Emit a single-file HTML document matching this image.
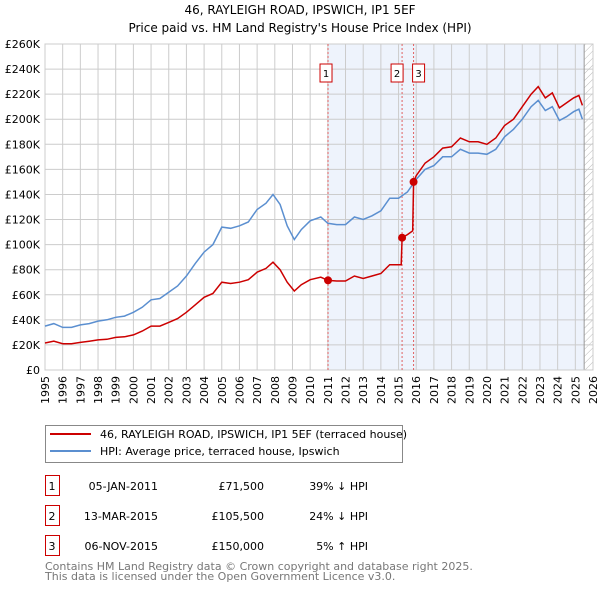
<!DOCTYPE html>
<html><head><meta charset="utf-8"><style>
body{margin:0;background:#fff;font-family:"DejaVu Sans","Liberation Sans",sans-serif;}
svg text{font-family:"DejaVu Sans","Liberation Sans",sans-serif;}
</style></head><body>
<svg id="c" width="600" height="590" xmlns="http://www.w3.org/2000/svg">
<defs><pattern id="hatch" width="5" height="5" patternUnits="userSpaceOnUse" patternTransform="rotate(45)"><line x1="0" y1="0" x2="0" y2="5" stroke="#bbb" stroke-width="1"/></pattern></defs>
<text x="300" y="14" text-anchor="middle" font-size="12">46, RAYLEIGH ROAD, IPSWICH, IP1 5EF</text>
<text x="300" y="32" text-anchor="middle" font-size="12">Price paid vs. HM Land Registry's House Price Index (HPI)</text>
<g id="plot"></g>
<g>
<rect x="45.5" y="425.5" width="357" height="37" fill="#fff" stroke="#888"/>
<line x1="50" y1="434" x2="91" y2="434" stroke="#cc0000" stroke-width="2"/>
<text x="100" y="438" font-size="11">46, RAYLEIGH ROAD, IPSWICH, IP1 5EF (terraced house)</text>
<line x1="50" y1="451" x2="91" y2="451" stroke="#5b8fd0" stroke-width="2"/>
<text x="100" y="455" font-size="11">HPI: Average price, terraced house, Ipswich</text>
</g>
<g id="table" font-size="11"></g>
<text x="45" y="570" font-size="11" fill="#777">Contains HM Land Registry data © Crown copyright and database right 2025.</text>
<text x="45" y="580" font-size="11" fill="#777">This data is licensed under the Open Government Licence v3.0.</text>
</svg>
<script>
const hpiYears=[1995,1995.5,1996,1996.5,1997,1997.5,1998,1998.5,1999,1999.5,2000,2000.5,2001,2001.5,2002,2002.5,2003,2003.5,2004,2004.5,2005,2005.5,2006,2006.5,2007,2007.5,2007.9,2008.3,2008.7,2009.1,2009.5,2010,2010.6,2011,2011.5,2012,2012.5,2013,2013.5,2014,2014.5,2015,2015.5,2016,2016.5,2017,2017.5,2018,2018.5,2019,2019.5,2020,2020.5,2021,2021.5,2022,2022.5,2022.9,2023.3,2023.7,2024.1,2024.5,2024.9,2025.2,2025.4];
const hpiValues=[35,37,34,34,36,37,39,40,42,43,46,50,56,57,62,67,75,85,94,100,114,113,115,118,128,133,140,132,115,104,112,119,122,117,116,116,122,120,123,127,137,137,142,152,160,163,170,170,176,173,173,172,176,186,192,200,210,215,207,210,199,202,206,208,200];
const propYears=[1995,1995.5,1996,1996.5,1997,1997.5,1998,1998.5,1999,1999.5,2000,2000.5,2001,2001.5,2002,2002.5,2003,2003.5,2004,2004.5,2005,2005.5,2006,2006.5,2007,2007.5,2007.9,2008.3,2008.7,2009.1,2009.5,2010,2010.6,2011.01,2011.5,2012,2012.5,2013,2013.5,2014,2014.5,2015.15,2015.2,2015.5,2015.8,2015.85,2016,2016.5,2017,2017.5,2018,2018.5,2019,2019.5,2020,2020.5,2021,2021.5,2022,2022.5,2022.9,2023.3,2023.7,2024.1,2024.5,2024.9,2025.2,2025.4];
const propValues=[21.5,23,21,21,22,23,24,24.5,26,26.5,28,31,35,35,38,41,46,52,58,61,70,69,70,72,78,81,86,80,70,63,68,72,74,71.5,71,71,75,73,75,77,84,84,105.5,108,111,150,155,165,170,177,178,185,182,182,180,185,195,200,210,220,226,217,221,209,213,217,219,211];
const saleLabels=["1","2","3"];
const saleYears=[2011.01,2015.2,2015.85];
const saleValues=[71.5,105.5,150];
const saleDates=["05-JAN-2011","13-MAR-2015","06-NOV-2015"];
const salePrices=["£71,500","£105,500","£150,000"];
const saleHpi=["39% ↓ HPI","24% ↓ HPI","5% ↑ HPI"];
const yTicks=[0,20,40,60,80,100,120,140,160,180,200,220,240,260];
const xTicks=[1995,1996,1997,1998,1999,2000,2001,2002,2003,2004,2005,2006,2007,2008,2009,2010,2011,2012,2013,2014,2015,2016,2017,2018,2019,2020,2021,2022,2023,2024,2025,2026];

const X0=45,X1=593,Y0=370,Y1=44;
const xs=y=>X0+(y-1995)/31*(X1-X0);
const ys=v=>Y0-v/260*(Y0-Y1);
const NS="http://www.w3.org/2000/svg";
function mk(p,t,a){const e=document.createElementNS(NS,t);for(const k in a)e.setAttribute(k,a[k]);p.appendChild(e);return e;}
const plot=document.getElementById('plot');
const shade=mk(plot,'rect',{x:xs(2011),y:Y1,width:xs(2025.5)-xs(2011),height:Y0-Y1,fill:'#eef3fc'});


const hat=mk(plot,'rect',{x:xs(2025.5),y:Y1,width:X1-xs(2025.5),height:Y0-Y1,fill:'url(#hatch)'});


yTicks.forEach(v=>{
 mk(plot,'line',{x1:X0,x2:X1,y1:ys(v),y2:ys(v),stroke:'#ccc','stroke-width':1});
 const t=mk(plot,'text',{x:X0-5,y:ys(v)+4,'text-anchor':'end','font-size':11});
 t.textContent='£'+v+(v?'K':'');
 
 
});
xTicks.forEach(y=>{
 mk(plot,'line',{x1:xs(y),x2:xs(y),y1:Y1,y2:Y0,stroke:'#ccc','stroke-width':1});
 const tx=xs(y)+4, ty=Y0+6;
 const t=mk(plot,'text',{x:tx,y:ty,'text-anchor':'end','font-size':11,transform:'rotate(-90 '+tx+' '+ty+')'});
 t.textContent=y;
 
 
});
mk(plot,'line',{x1:xs(2025.5),x2:xs(2025.5),y1:Y1,y2:Y0,stroke:'#999','stroke-width':1});
mk(plot,'rect',{x:X0,y:Y1,width:X1-X0,height:Y0-Y1,fill:'none',stroke:'#ccc'});
saleYears.forEach((y,i)=>{
 const l=mk(plot,'line',{x1:xs(y),x2:xs(y),y1:Y1,y2:Y0,stroke:'#e06060','stroke-dasharray':'2,2','stroke-width':1});
 
 
});
function path(xa,va,col,name){
 const d=xa.map((y,i)=>(i?'L':'M')+xs(y).toFixed(1)+','+ys(va[i]).toFixed(1)).join('');
 const p=mk(plot,'path',{d:d,fill:'none',stroke:col,'stroke-width':1.5});
 
 
}
path(hpiYears,hpiValues,'#5b8fd0','hpi-line');
path(propYears,propValues,'#cc0000','property-price-line');
saleYears.forEach((y,i)=>{
 const c=mk(plot,'circle',{cx:xs(y),cy:ys(saleValues[i]),r:4,fill:'#cc0000'});
 
 
 const bx=i==0?xs(y)-8:(i==1?xs(y)-11:xs(y)-1);
 const b=mk(plot,'rect',{x:bx,y:64,width:12,height:18,fill:'#fff',stroke:'#cc0000'});
 
 
 const t=mk(plot,'text',{x:bx+6,y:77,'text-anchor':'middle','font-size':10});
 t.textContent=saleLabels[i];
 
 
});
const tb=document.getElementById('table');
saleLabels.forEach((s,i)=>{
 const yy=487+i*30;
 const r=mk(tb,'rect',{x:45.5,y:yy-11.5,width:14,height:20,fill:'#fff',stroke:'#cc0000'});
 
 
 const cols=[[52,'middle',s],[158,'end',saleDates[i]],[264,'end',salePrices[i]],[368,'end',saleHpi[i]]];
 cols.forEach(c=>{const t=mk(tb,'text',{x:c[0],y:yy+3,'text-anchor':c[1]});t.textContent=c[2];
 
 });
});
</script>
</body></html>
